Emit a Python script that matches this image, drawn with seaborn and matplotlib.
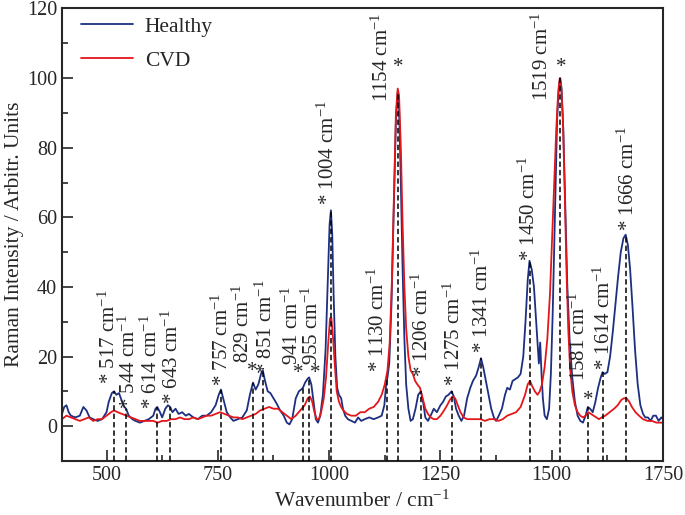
import numpy as np
import pandas as pd
import seaborn as sns
import matplotlib.pyplot as plt
from matplotlib.ticker import MultipleLocator

# Healthy spectrum (wavenumber, intensity)
wn_healthy = [400, 405, 410, 415, 420, 430, 440, 448, 455, 462, 470, 480, 490, 500, 505, 512, 517,
              522, 528, 535, 540, 544, 550, 558, 565, 575, 585, 595, 605, 610, 614, 620, 625, 632,
              638, 643, 648, 655, 662, 670, 678, 685, 695, 705, 715, 725, 735, 745, 752, 757, 762,
              770, 778, 785, 795, 805, 815, 822, 829, 835, 841, 847, 851, 856, 862, 868, 875, 882,
              890, 898, 905, 911, 917, 925, 932, 937, 941, 946, 951, 955, 960, 965, 970, 975, 980,
              986, 992, 997, 1001, 1004, 1007, 1010, 1014, 1018, 1022, 1027, 1031, 1036, 1042,
              1050, 1058, 1065, 1072, 1080, 1090, 1100, 1110, 1118, 1124, 1128, 1131, 1135, 1140,
              1145, 1150, 1154, 1157, 1161, 1165, 1169, 1173, 1178, 1183, 1188, 1194, 1200, 1206,
              1211, 1216, 1222, 1228, 1235, 1242, 1250, 1256, 1262, 1268, 1275, 1280, 1285, 1291,
              1297, 1303, 1310, 1317, 1323, 1330, 1336, 1341, 1346, 1352, 1358, 1364, 1370, 1375,
              1381, 1388, 1395, 1400, 1406, 1412, 1418, 1424, 1430, 1436, 1441, 1446, 1450, 1455,
              1460, 1464, 1468, 1471, 1474, 1477, 1480, 1484, 1489, 1494, 1498, 1502, 1507, 1512,
              1516, 1519, 1522, 1526, 1530, 1535, 1540, 1546, 1552, 1558, 1564, 1570, 1576, 1581,
              1586, 1592, 1598, 1604, 1610, 1614, 1619, 1625, 1631, 1637, 1643, 1649, 1655, 1661,
              1666, 1671, 1676, 1681, 1687, 1693, 1699, 1705, 1710, 1716, 1722, 1728, 1734, 1740,
              1746, 1750]
int_healthy = [3.5, 5.5, 6, 4, 3, 2.5, 3, 5.5, 4.5, 2.5, 2, 1.5, 2, 4, 7, 9.5, 10,
               9, 9.5, 7, 5.5, 5, 3, 2, 1.5, 1, 1.5, 2, 3, 5, 5.5, 4, 2.5, 5,
               6, 5.5, 4, 5, 3.5, 4, 3, 3.5, 2.5, 2, 3, 3, 4, 6, 9, 10.5, 8,
               4, 2.5, 1.5, 2, 2.5, 4.5, 9, 12.5, 10.5, 12, 15, 16, 13, 10, 9.5, 8, 6.5,
               4.5, 3, 1, 0.5, 2, 8, 10, 10.5, 11, 12.5, 13.5, 14, 12, 7, 2, 1, 3,
               9, 22, 42, 58, 62, 55, 38, 20, 11, 9, 8, 5, 3, 2,
               1.5, 1, 2.5, 1.5, 2, 2.5, 2, 2.5, 3, 6, 12, 14, 18, 35,
               62, 88, 96, 92, 70, 45, 25, 12, 5, 1.5, 2, 5, 9, 10,
               7, 2.5, 1.5, 3, 5, 4, 6, 7, 8.5, 9, 10, 8.5, 5, 3,
               1.5, 3, 8, 11, 13, 14.5, 17, 19.5, 17, 13, 9, 5, 2.5, 1.5,
               3, 5, 9, 11, 10.5, 13, 13.5, 14, 15, 20, 30, 42, 47.5, 45,
               40, 32, 24, 18, 24, 15, 8, 3, 2, 5, 15, 32, 60, 88,
               98, 100, 97, 85, 65, 40, 25, 14, 7, 3, 1.5, 1, 3, 5.5,
               5, 4, 7, 11, 14, 15.5, 15, 15.5, 20, 27, 35, 43, 50, 54,
               55, 52, 45, 35, 22, 12, 6, 3.5, 2.5, 2.5, 1.5, 3, 3, 1.5,
               2.5, 2]

# CVD spectrum
wn_cvd = [400, 410, 420, 430, 440, 450, 460, 470, 480, 490, 500, 510, 517, 525, 535, 545, 555,
          565, 575, 585, 595, 605, 615, 625, 635, 645, 655, 665, 675, 685, 695, 705, 715, 725,
          735, 745, 755, 765, 775, 785, 795, 805, 815, 825, 835, 845, 855, 865, 875, 885, 895,
          905, 915, 925, 935, 945, 952, 957, 962, 967, 972, 977, 982, 988, 993, 998, 1002, 1005,
          1009, 1013, 1017, 1022, 1027, 1032, 1040, 1050, 1060, 1070, 1080, 1090, 1100, 1110,
          1118, 1125, 1131, 1136, 1141, 1146, 1150, 1154, 1157, 1161, 1165, 1169, 1173, 1178,
          1183, 1188, 1193, 1198, 1204, 1210, 1216, 1222, 1228, 1235, 1242, 1250, 1258, 1265,
          1271, 1277, 1283, 1289, 1295, 1302, 1310, 1320, 1330, 1340, 1350, 1360, 1370, 1380,
          1390, 1400, 1410, 1420, 1430, 1440, 1446, 1451, 1456, 1462, 1468, 1473, 1478, 1484,
          1490, 1496, 1501, 1506, 1510, 1514, 1518, 1521, 1525, 1529, 1533, 1537, 1541, 1546,
          1552, 1558, 1564, 1570, 1576, 1582, 1588, 1594, 1600, 1606, 1612, 1620, 1630, 1640,
          1648, 1656, 1662, 1668, 1674, 1680, 1688, 1696, 1705, 1715, 1725, 1735, 1745, 1750]
int_cvd = [2, 3, 2.5, 2, 1.5, 2, 2.5, 1.5, 2, 2, 3, 4, 4.5, 4, 3.5, 3, 2.5,
           2, 1.5, 1.5, 1.5, 1.5, 1, 1.5, 1.5, 2, 2, 2.5, 2, 2, 2.5, 2, 2.5, 3,
           3, 3.5, 4, 3.5, 3, 2.5, 2.5, 2, 2.5, 3, 3.5, 4.5, 5, 5.5, 5, 5, 4,
           3, 2, 3, 4.5, 6, 8, 8.5, 7, 4, 2, 2, 4, 8, 14, 24, 31, 31,
           25, 17, 10, 7, 5.5, 4.5, 3.5, 3, 3, 4, 4, 5, 5.5, 7,
           9, 12, 16, 24, 42, 68, 90, 97, 95, 80, 58, 40, 28, 20,
           16, 15, 13, 12, 11, 8, 5, 3.5, 2.5, 2, 2, 3, 4.5, 6,
           7.5, 8.5, 8, 6, 4, 2.5, 2, 2, 2, 2, 1.5, 2, 2, 1.5,
           2, 3, 3.5, 4, 5.5, 9, 12, 13, 11.5, 10, 9, 10, 12, 17,
           25, 38, 55, 72, 85, 95, 100, 98, 88, 68, 45, 28, 17, 10,
           6, 4, 3, 2.5, 3, 4, 3.5, 3, 2.5, 2, 2.5, 3, 4, 5,
           6, 7.5, 8, 8, 7, 5.5, 4, 3, 2, 1.5, 1.5, 1, 1, 1]

# assigned peaks
peaks = [517, 544, 614, 643, 757, 829, 851, 941, 955, 1004, 1130, 1154, 1206, 1275,
         1341, 1450, 1519, 1581, 1614, 1666]

# label layout: peak -> (text centre x, text bottom y, separate star x, star y)
label_layout = {
    517: (505, 12.0, None, None),
    544: (550, 5.0, None, None),
    614: (601, 5.0, None, None),
    643: (647, 6.5, None, None),
    757: (760, 11.5, None, None),
    829: (807, 18.0, 827, 15.8),
    851: (859, 15.0, None, None),
    941: (918, 17.5, 930, 15.0),
    955: (961, 17.5, 968, 15.0),
    1004: (998, 63.5, None, None),
    1130: (1110, 15.5, None, None),
    1154: (1119, 93.0, 1156, 103.0),
    1206: (1208, 14.0, None, None),
    1275: (1281, 11.5, None, None),
    1341: (1344, 21.0, None, None),
    1450: (1449, 47.5, None, None),
    1519: (1478, 93.5, 1521, 103.0),
    1581: (1561, 13.0, 1583, 7.5),
    1614: (1618, 16.0, None, None),
    1666: (1671, 56.0, None, None),
}

sns.set_style("ticks")
plt.rcParams['font.family'] = ['Liberation Serif', 'DejaVu Serif']
plt.rcParams['mathtext.fontset'] = 'custom'
plt.rcParams['mathtext.rm'] = 'Liberation Serif'
plt.rcParams['mathtext.it'] = 'Liberation Serif:italic'

df_h = pd.DataFrame({"wn": wn_healthy, "I": int_healthy})
df_c = pd.DataFrame({"wn": wn_cvd, "I": int_cvd})

fig = plt.figure(figsize=(6.85, 5.15), dpi=100)
ax = fig.add_axes([0.0905, 0.105, 0.8775, 0.8785])

sns.lineplot(data=df_h, x="wn", y="I", color="#1c2f80", lw=1.3, label="Healthy", ax=ax)
sns.lineplot(data=df_c, x="wn", y="I", color="#e3171b", lw=1.3, label="CVD", ax=ax)

# dashed markers from the bottom up to the healthy curve
tops = np.interp(peaks, wn_healthy, int_healthy)
ax.vlines(peaks, -10, tops, colors="black", linestyles=(0, (3.5, 2)), lw=1.1, zorder=3)

fs = 15
for p in peaks:
    tx, ty, sx, sy = label_layout[p]
    if sx is None:
        ax.text(tx, ty, "* %d cm$^{-1}$" % p, rotation=90, ha="center", va="bottom", fontsize=fs)
    else:
        ax.text(tx, ty, "%d cm$^{-1}$" % p, rotation=90, ha="center", va="bottom", fontsize=fs)
        ax.text(sx, sy, "*", ha="center", va="center", fontsize=fs)

ax.set_xlim(400, 1750)
ax.set_ylim(-10, 120)
ax.xaxis.set_major_locator(MultipleLocator(250))
ax.xaxis.set_minor_locator(MultipleLocator(125))
ax.yaxis.set_minor_locator(MultipleLocator(10))
ax.set_yticks([0, 20, 40, 60, 80, 100, 120])
ax.tick_params(which="both", direction="in", width=1.2, labelsize=14.5, top=False, right=False)
ax.tick_params(which="major", length=8)
ax.tick_params(which="minor", length=4.5)
for s in ax.spines.values():
    s.set_linewidth(1.5)

ax.set_xlabel("Wavenumber / cm$^{-1}$", fontsize=15.5, labelpad=4)
ax.set_ylabel("Raman Intensity / Arbitr. Units", fontsize=15.5, labelpad=2)
ax.legend(loc="upper left", bbox_to_anchor=(0.0, 1.025), frameon=False, fontsize=15.5,
          handlelength=2.4, handletextpad=0.55, labelspacing=0.65)

fig.savefig("out.png", dpi=100)
